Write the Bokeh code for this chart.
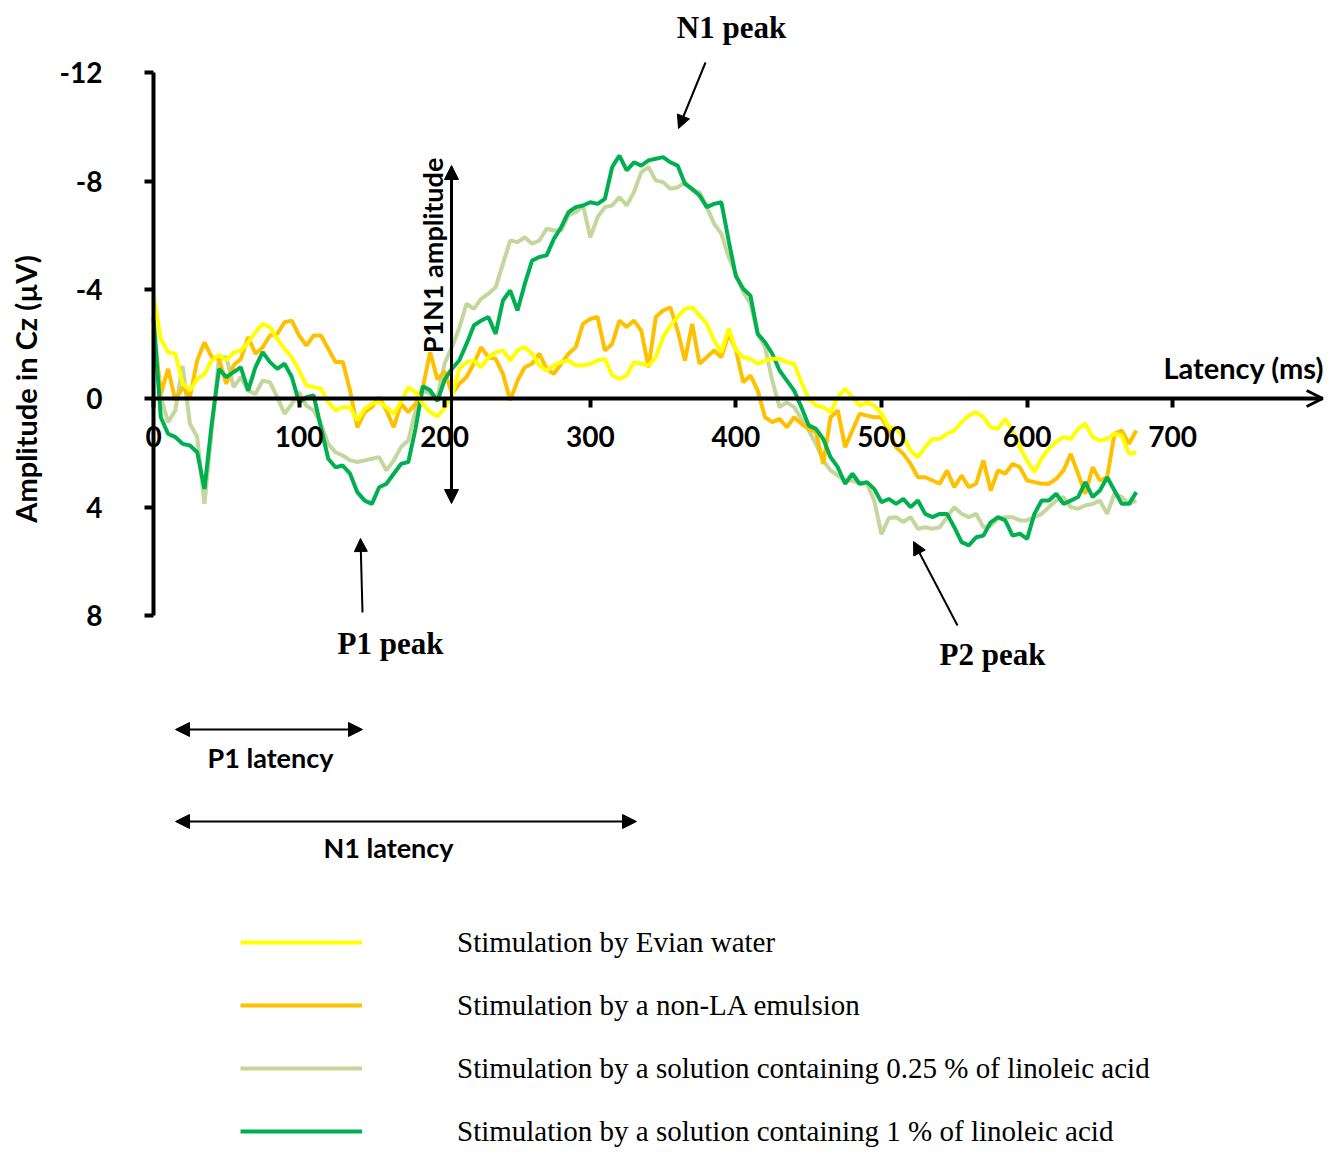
import math
from bokeh.plotting import figure
from bokeh.models import (Range1d, LinearAxis, FixedTicker, Label, Arrow, NormalHead,
                          OpenHead, Legend, LegendItem, ColumnDataSource, PrintfTickFormatter)
from bokeh.embed import file_html
from bokeh.resources import INLINE

# ---------------- data ----------------
TIME_MS = list(range(0, 680, 5))

EVIAN = [-3.8, -2.2, -1.7, -1.65, -0.55, -0.3, -0.72, -0.9, -1.4, -1.6,
         -1.4, -1.7, -1.77, -2.07, -2.44, -2.75, -2.63, -2.2, -1.83, -1.52,
         -1.03, -0.48, -0.42, -0.36, 0.13, 0.44, 0.32, 0.32, 0.81, 0.38,
         0.2, 0.13, 0.32, 0.56, 0.13, -0.42, -0.23, 0.2, 0.5, 0.66,
         0.35, -0.1, -1.09, -1.34, -1.4, -1.15, -1.52, -1.7, -1.77, -1.4,
         -1.77, -1.89, -1.65, -1.22, -1.03, -1.22, -1.34, -1.4, -1.22, -1.22,
         -1.28, -1.4, -1.46, -0.85, -0.72, -0.85, -1.34, -1.28, -1.22, -1.52,
         -2.26, -2.69, -3.0, -3.3, -3.36, -3.06, -2.75, -2.14, -1.7, -2.57,
         -1.8, -1.52, -1.46, -1.28, -1.4, -1.46, -1.46, -1.34, -1.28, -0.6,
         0.01, 0.26, 0.32, 0.5, -0.05, -0.36, -0.05, 0.26, 0.14, 0.26,
         0.56, 1.06, 1.12, 1.42, 1.92, 2.16, 1.79, 1.49, 1.49, 1.3,
         1.18, 0.87, 0.63, 0.5, 0.69, 1.06, 1.12, 0.75, 1.18, 1.79,
         2.3, 2.7, 2.2, 1.85, 1.6, 1.42, 1.49, 1.12, 0.93, 1.42,
         1.55, 1.49, 1.3, 1.36, 2.04, 1.98]

NON_LA = [-2.5, -0.17, -1.09, 0.07, -0.42, -0.05, -1.4, -2.07, -1.52, -1.46,
          -0.54, -1.22, -1.46, -2.26, -1.65, -1.89, -2.32, -2.38, -2.81, -2.87,
          -2.32, -1.95, -2.32, -2.32, -1.83, -1.34, -1.34, -0.29, 1.06, 0.5,
          0.32, -0.05, 0.44, 1.06, 0.2, 0.5, 0.2, -0.42, -1.7, -0.7,
          -1.0, -0.17, -0.54, -0.79, -1.28, -1.89, -1.52, -1.46, -0.91, 0.07,
          -0.66, -1.15, -1.28, -1.65, -1.09, -0.91, -1.28, -1.65, -1.89, -2.75,
          -2.93, -3.0, -1.77, -2.01, -2.87, -2.63, -2.87, -2.5, -1.15, -3.0,
          -3.24, -3.36, -2.5, -1.4, -2.75, -1.28, -1.52, -1.77, -1.52, -2.38,
          -1.8, -0.6, -0.85, -0.29, 0.69, 0.87, 0.75, 1.06, 0.69, 0.93,
          1.12, 1.24, 2.41, 0.69, 0.44, 1.79, 1.18, 0.56, 0.63, 0.69,
          0.69, 1.18, 1.79, 2.04, 2.41, 2.9, 2.9, 3.02, 3.14, 2.65,
          3.27, 2.84, 3.27, 3.14, 2.28, 3.39, 2.65, 2.77, 2.41, 2.53,
          3.02, 3.08, 3.14, 3.14, 2.96, 2.65, 2.04, 2.77, 3.51, 2.53,
          3.02, 2.9, 1.3, 1.18, 1.67, 1.18]

LA_025 = [-2.9, -0.05, 0.87, 0.44, -1.2, 0.93, 1.42, 3.88, 1.18, -1.52,
          -1.52, -0.42, -0.79, -0.29, -0.17, -0.66, -0.6, -0.05, 0.56, 0.2,
          -0.23, 0.26, 0.44, 0.93, 1.67, 1.98, 2.1, 2.28, 2.34, 2.28,
          2.22, 2.16, 2.65, 2.28, 1.79, 1.55, 0.44, -0.29, -0.17, -0.05,
          -1.3, -1.9, -2.6, -3.49, -3.3, -3.67, -3.86, -4.1, -4.96, -5.82,
          -5.76, -5.94, -5.7, -5.82, -6.25, -6.19, -6.19, -6.74, -6.86, -7.11,
          -5.94, -6.68, -7.05, -7.11, -7.42, -7.11, -7.6, -8.34, -8.52, -8.03,
          -7.97, -7.72, -7.78, -7.97, -7.66, -7.6, -7.05, -6.44, -6.07, -5.21,
          -4.6, -3.92, -3.49, -2.38, -1.89, -0.66, 0.32, 0.14, 0.32, 0.75,
          1.18, 1.67, 2.28, 2.65, 2.84, 3.02, 3.02, 3.14, 3.14, 3.76,
          5.0, 4.4, 4.37, 4.55, 4.37, 4.8, 4.74, 4.8, 4.74, 4.37,
          4.0, 4.25, 4.37, 4.25, 4.74, 4.68, 4.43, 4.37, 4.37, 4.49,
          4.49, 4.37, 4.25, 4.0, 3.76, 3.63, 4.0, 4.06, 3.94, 3.88,
          3.76, 4.25, 3.51, 3.63, 3.88, 3.76]

LA_1 = [-3.0, 0.69, 1.3, 1.42, 1.67, 1.73, 1.98, 3.33, 0.93, -1.09,
        -0.79, -0.97, -1.15, -0.29, -1.15, -1.71, -1.34, -1.09, -1.28, -0.79,
        0.14, -0.05, -0.11, 1.06, 2.22, 2.53, 2.47, 2.77, 3.45, 3.76,
        3.88, 3.27, 3.14, 2.77, 2.41, 2.34, 1.1, -0.45, -0.3, 0.1,
        -0.7, -1.1, -1.4, -2.01, -2.69, -2.87, -3.0, -2.38, -3.61, -3.98,
        -3.24, -4.22, -5.08, -5.21, -5.27, -5.88, -6.31, -6.86, -7.05, -7.11,
        -7.23, -7.17, -7.35, -8.52, -8.95, -8.4, -8.7, -8.58, -8.77, -8.83,
        -8.89, -8.7, -8.58, -7.91, -7.72, -7.48, -7.05, -7.17, -7.23, -5.82,
        -4.5, -4.04, -3.79, -2.38, -2.07, -1.65, -1.03, -0.66, -0.29, 0.32,
        0.99, 1.12, 1.49, 2.16, 2.53, 3.14, 2.77, 3.14, 3.08, 3.33,
        3.82, 3.7, 3.88, 3.7, 4.0, 3.76, 4.25, 4.37, 4.25, 4.25,
        4.74, 5.29, 5.41, 5.11, 5.05, 4.56, 4.37, 4.49, 5.05, 4.98,
        5.17, 4.25, 3.76, 3.76, 3.51, 3.88, 3.76, 3.63, 3.08, 3.63,
        3.39, 2.9, 3.39, 3.88, 3.88, 3.45]

SERIES_LABELS = ["Stimulation by Evian water",
                 "Stimulation by a non-LA emulsion",
                 "Stimulation by a solution containing 0.25 % of linoleic acid",
                 "Stimulation by a solution containing 1 % of linoleic acid"]
X_TICKS = [0, 100, 200, 300, 400, 500, 600, 700]
Y_TICKS = [-12, -8, -4, 0, 4, 8]

for s in (EVIAN, NON_LA, LA_025, LA_1):
    assert len(s) == len(TIME_MS)

# ---------------- geometry ----------------
W, H = 1340, 1153
PX_PER_MS = 1.456
PX_PER_UV = 27.15
X0_PX = 153.0
Y0_PX = 398.0
x_start = -X0_PX / PX_PER_MS
x_end = x_start + W / PX_PER_MS
y_top = -Y0_PX / PX_PER_UV
y_bottom = (H - Y0_PX) / PX_PER_UV

p = figure(width=W, height=H, x_range=Range1d(x_start, x_end),
           y_range=Range1d(y_bottom, y_top), output_backend="svg",
           toolbar_location=None, x_axis_type=None, y_axis_type=None,
           min_border=0, outline_line_color=None)

SANS = "Lato"
SERIF = "Liberation Serif"

# axes
yaxis = LinearAxis(fixed_location=0, bounds=(-12, 8), ticker=FixedTicker(ticks=Y_TICKS),
                   formatter=PrintfTickFormatter(format="%d"))
xaxis = LinearAxis(fixed_location=0, bounds=(0, 803), ticker=FixedTicker(ticks=X_TICKS),
                   formatter=PrintfTickFormatter(format="%d"))
for ax in (yaxis, xaxis):
    ax.axis_line_width = 4
    ax.axis_line_color = "black"
    ax.major_tick_line_width = 4
    ax.major_tick_out = 9
    ax.major_tick_in = 0
    ax.minor_tick_line_color = None
    ax.major_label_text_font = SANS
    ax.major_label_text_font_style = "bold"
    ax.major_label_text_font_size = "28px"
    ax.major_label_text_color = "black"
yaxis.major_label_standoff = 42
xaxis.major_label_standoff = 18
p.add_layout(yaxis, "left")
p.add_layout(xaxis, "below")

p.add_layout(Arrow(end=OpenHead(size=16, line_width=3, line_color="black"),
                   x_start=790, y_start=0, x_end=803, y_end=0,
                   line_width=3, line_color="black"))

# series
src = ColumnDataSource(dict(t=TIME_MS, ev=EVIAN, nl=NON_LA, l25=LA_025, l1=LA_1))
r_l25 = p.line("t", "l25", source=src, line_color="#C3D69B", line_width=4)
r_nl = p.line("t", "nl", source=src, line_color="#FFC000", line_width=4)
r_l1 = p.line("t", "l1", source=src, line_color="#00B050", line_width=4)
r_ev = p.line("t", "ev", source=src, line_color="#FFFF00", line_width=4)

def mx(px):
    return (px - X0_PX) / PX_PER_MS

def my(py):
    return (py - Y0_PX) / PX_PER_UV

# axis titles
p.add_layout(Label(x=mx(25), y=my(385), text="Amplitude in Cz  (µV)", angle=math.pi / 2,
                   text_align="center", text_baseline="middle", text_font=SANS,
                   text_font_style="bold", text_font_size="29px", text_color="black"))
p.add_layout(Label(x=mx(1163), y=my(367), text="Latency (ms)", text_align="left",
                   text_baseline="middle", text_font=SANS, text_font_style="bold",
                   text_font_size="29px", text_color="black"))

# P1N1 amplitude
p.add_layout(Arrow(start=NormalHead(size=14, fill_color="black", line_color="black"),
                   end=NormalHead(size=14, fill_color="black", line_color="black"),
                   x_start=mx(451), y_start=my(165), x_end=mx(451), y_end=my(503),
                   line_width=3, line_color="black"))
p.add_layout(Label(x=mx(432), y=my(255), text="P1N1 amplitude", angle=math.pi / 2,
                   text_align="center", text_baseline="middle", text_font=SANS,
                   text_font_style="bold", text_font_size="27px", text_color="black"))

# peaks
def peak(text, tx, ty, x0, y0, x1, y1):
    p.add_layout(Label(x=mx(tx), y=my(ty), text=text, text_align="center",
                       text_baseline="middle", text_font=SERIF, text_font_style="bold",
                       text_font_size="31px", text_color="black"))
    p.add_layout(Arrow(end=NormalHead(size=13, fill_color="black", line_color="black"),
                       x_start=mx(x0), y_start=my(y0), x_end=mx(x1), y_end=my(y1),
                       line_width=2, line_color="black"))

peak("N1 peak", 731, 27, 705, 62, 678, 128)
peak("P1 peak", 390, 643, 362, 612, 360, 538)
peak("P2 peak", 992, 654, 957, 625, 913, 541)

# latencies
def latency(text, x0, x1, ya, tx, ty):
    p.add_layout(Arrow(start=NormalHead(size=14, fill_color="black", line_color="black"),
                       end=NormalHead(size=14, fill_color="black", line_color="black"),
                       x_start=mx(x0), y_start=my(ya), x_end=mx(x1), y_end=my(ya),
                       line_width=2, line_color="black"))
    p.add_layout(Label(x=mx(tx), y=my(ty), text=text, text_align="center",
                       text_baseline="middle", text_font=SANS, text_font_style="bold",
                       text_font_size="27px", text_color="black"))

latency("P1 latency", 175, 362, 729, 270, 757)
latency("N1 latency", 175, 636, 821, 388, 847)

# legend
legend = Legend(items=[LegendItem(label=SERIES_LABELS[0], renderers=[r_ev]),
                       LegendItem(label=SERIES_LABELS[1], renderers=[r_nl]),
                       LegendItem(label=SERIES_LABELS[2], renderers=[r_l25]),
                       LegendItem(label=SERIES_LABELS[3], renderers=[r_l1])],
                location=(240, H - 1151), orientation="vertical",
                glyph_width=122, glyph_height=40, label_height=40, spacing=23,
                label_standoff=95, padding=0, margin=0,
                border_line_color=None, background_fill_alpha=0,
                label_text_font=SERIF, label_text_font_size="29px",
                label_text_color="black")
p.add_layout(legend)

open("out.html", "w").write(file_html(p, INLINE))
